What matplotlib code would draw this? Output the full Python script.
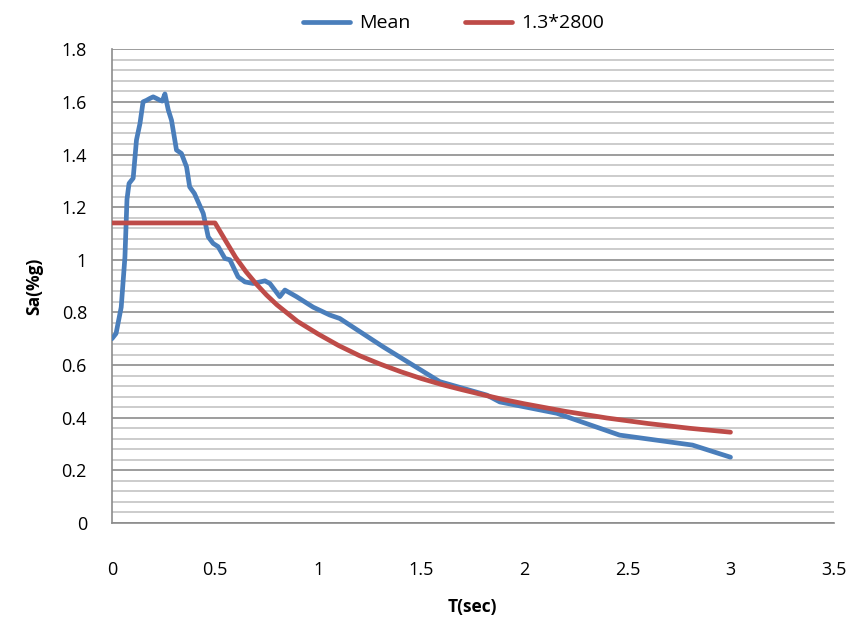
import numpy as np
import matplotlib.pyplot as plt
from matplotlib.ticker import MultipleLocator

# ---- data ------------------------------------------------------------------
mean_T = [0.0, 0.02, 0.045, 0.063, 0.073, 0.083, 0.103, 0.119, 0.136, 0.151,
          0.168, 0.184, 0.2, 0.216, 0.233, 0.244, 0.257, 0.273, 0.289, 0.313,
          0.337, 0.362, 0.377, 0.4, 0.443, 0.467, 0.491, 0.515, 0.548, 0.572,
          0.612, 0.645, 0.685, 0.742, 0.766, 0.814, 0.839, 0.895, 0.976,
          1.057, 1.105, 1.314, 1.59, 1.818, 1.881, 2.157, 2.462, 2.816, 3.0]
mean_Sa = [0.70, 0.72, 0.82, 1.01, 1.23, 1.29, 1.31, 1.455, 1.518, 1.60,
           1.606, 1.613, 1.619, 1.613, 1.606, 1.603, 1.63, 1.57, 1.53, 1.417,
           1.404, 1.353, 1.277, 1.252, 1.176, 1.087, 1.062, 1.05, 1.005, 1.0,
           0.935, 0.916, 0.91, 0.92, 0.91, 0.86, 0.885, 0.86, 0.82, 0.79,
           0.777, 0.67, 0.537, 0.486, 0.46, 0.417, 0.334, 0.296, 0.25]

code_T = [0.0, 0.5, 0.55, 0.6, 0.65, 0.7, 0.75, 0.8, 0.9, 1.0, 1.1, 1.2, 1.3,
          1.4, 1.5, 1.6, 1.7, 1.8, 1.9, 2.0, 2.2, 2.4, 2.6, 2.8, 3.0]
code_Sa = [1.14, 1.14, 1.074, 1.009, 0.955, 0.908, 0.866, 0.829, 0.766,
           0.718, 0.674, 0.636, 0.604, 0.575, 0.549, 0.526, 0.506, 0.487,
           0.469, 0.453, 0.424, 0.399, 0.378, 0.360, 0.345]

BLUE = "#4A7EBB"
RED = "#BE4B48"

plt.rcParams["font.family"] = ["Open Sans", "DejaVu Sans"]

fig = plt.figure(figsize=(8.48, 6.23), dpi=100)
ax = fig.add_axes([0.132, 0.1605, 0.851, 0.7605])

ax.plot(mean_T, mean_Sa, color=BLUE, lw=3.4, label="Mean",
        solid_joinstyle="round", solid_capstyle="round", zorder=3)
ax.plot(code_T, code_Sa, color=RED, lw=3.4, label="1.3*2800",
        solid_joinstyle="round", solid_capstyle="round", zorder=3)

ax.set_xlim(0, 3.5)
ax.set_ylim(0, 1.8)
ax.xaxis.set_major_locator(MultipleLocator(0.5))
ax.yaxis.set_major_locator(MultipleLocator(0.2))
ax.yaxis.set_minor_locator(MultipleLocator(0.04))
ax.xaxis.set_major_formatter(plt.FuncFormatter(lambda v, p: f"{v:g}"))
ax.yaxis.set_major_formatter(plt.FuncFormatter(lambda v, p: f"{v:g}"))

ax.grid(axis="y", which="major", color="#8C8C8C", lw=1.2)
ax.grid(axis="y", which="minor", color="#C4C4C4", lw=1.2)
ax.grid(axis="x", visible=False)
ax.set_axisbelow(True)

for s in ("top", "right"):
    ax.spines[s].set_visible(False)
for s in ("left", "bottom"):
    ax.spines[s].set_color("#8C8C8C")
    ax.spines[s].set_linewidth(1.2)

ax.tick_params(axis="both", which="both", length=0, labelsize=13)
ax.tick_params(axis="x", pad=27)
ax.tick_params(axis="y", pad=18)

ax.set_xlabel("T(sec)", fontsize=12.5, fontweight="bold", labelpad=14)
ax.set_ylabel("Sa(%g)", fontsize=12.5, fontweight="bold", labelpad=13)

fig.legend(loc="upper center", bbox_to_anchor=(0.535, 1.005), ncol=2,
           frameon=False, fontsize=14, handlelength=2.4, columnspacing=2.8,
           handletextpad=0.5)

fig.savefig("out.png", dpi=100)
